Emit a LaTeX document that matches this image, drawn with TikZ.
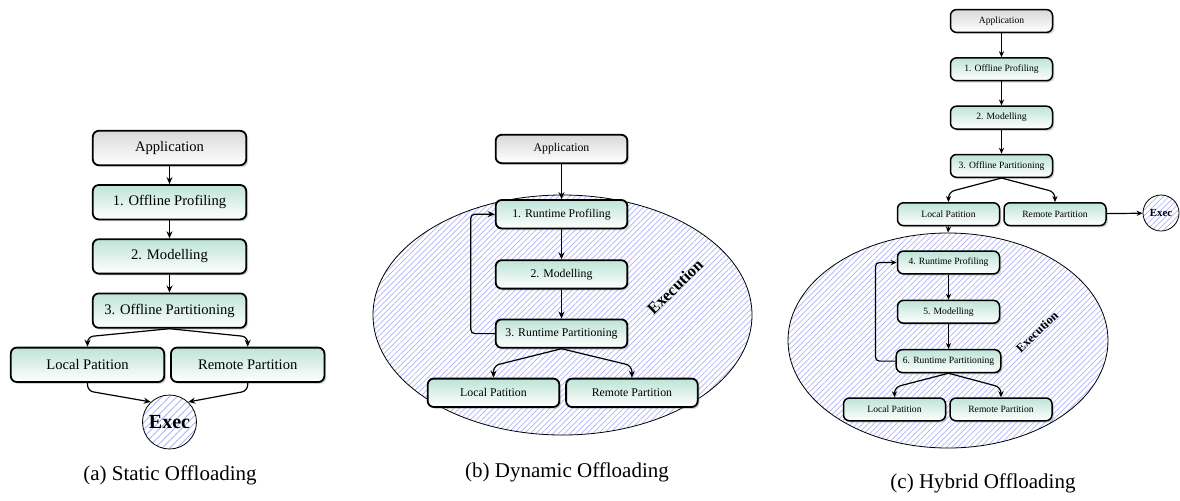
\documentclass[tikz,border=0pt]{standalone}
\usepackage{fontspec}
\setmainfont{Liberation Serif}
\usepackage{xcolor}
\definecolor{boxgreen}{RGB}{190, 228, 214}
\definecolor{hatchblue}{RGB}{175, 178, 250}
\usepackage{tikz}
\usetikzlibrary{
    shapes.geometric,
    arrows.meta,
    positioning,
    calc,
    shadows,
    patterns.meta
}
\tikzstyle{box} = [
    rectangle, draw,
    rounded corners=3pt,
    line width=0.9pt,
    text centered,
    align=center,
    draw=black,
    top color=boxgreen,
    bottom color=white,
    drop shadow={shadow xshift=0.9pt, shadow yshift=-0.9pt, opacity=0.35}
]
\tikzstyle{appbox} = [
    box,
    top color=black!15
]
\tikzstyle{hatch} = [
    draw=black,
    thin,
    pattern={Lines[angle=45, distance=2pt, line width=0.35pt]},
    pattern color=hatchblue
]
\tikzstyle{execlabel} = [
    font=\bfseries,
    inner sep=0pt
]
\tikzstyle{caption} = [
    font=\fontsize{10.5}{12}\selectfont
]
\tikzstyle{arrow} = [
    semithick,
    ->,
    >={Stealth[length=3.5pt, width=3pt]}
]

\begin{document}
\begin{tikzpicture}[x=0.5pt, y=-0.5pt]
\useasboundingbox (0,0) rectangle (1180,500);

% (a) static
\begin{scope}[box/.append style={minimum width=76.7pt, minimum height=17.2pt,
        font=\fontsize{7.3}{8}\selectfont}, node distance=9pt and 2.5pt]
\node (appA) [appbox] at (169.5,148) {Application};
\node (profA) [box, below=of appA] {1. Offline Profiling};
\node (modA) [box, below=of profA] {2. Modelling};
\node (partA) [box, below=of modA] {3. Offline Partitioning};
\node (localA) [box, below=of partA, xshift=-41pt] {Local Patition};
\node (remoteA) [box, right=of localA] {Remote Partition};
\node (execA) [hatch, circle, minimum size=27pt, inner sep=0pt,
    pattern={Lines[angle=45, distance=2.6pt, line width=0.45pt]},
    font=\fontsize{10}{11}\selectfont\bfseries] at (169.5,422) {Exec};

\draw [arrow] (appA) -- (profA);
\draw [arrow] (profA) -- (modA);
\draw [arrow] (modA) -- (partA);
\draw [arrow, rounded corners=3pt] (partA.south) -- ($(localA.north)+(0,5pt)$) -- (localA.north);
\draw [arrow, rounded corners=3pt] (partA.south) -- ($(remoteA.north)+(0,5pt)$) -- (remoteA.north);
\draw [arrow, rounded corners=3pt] (localA.south) -- ++(0,-4pt) -- (execA.133);
\draw [arrow, rounded corners=3pt] (remoteA.south) -- ++(0,-4pt) -- (execA.47);

\node (capA) [caption] at (170,475) {(a) Static Offloading};
\end{scope}

% (b) dynamic
\begin{scope}[box/.append style={minimum width=65.8pt, minimum height=14.2pt,
        font=\fontsize{5.9}{7}\selectfont}, node distance=14.5pt and 2.5pt]
\node (execB) [hatch, ellipse, minimum width=189.5pt, minimum height=120pt] at (562.5,315) {};
\node (labB) [execlabel, rotate=44, font=\fontsize{8.2}{9}\selectfont\bfseries] at (675,287) {Execution};

\node (appB) [appbox] at (561.5,149) {Application};
\node (profB) [box, below=17.5pt of appB] {1. Runtime Profiling};
\node (modB) [box, below=15pt of profB] {2. Modelling};
\node (partB) [box, below=of modB] {3. Runtime Partitioning};
\node (localB) [box, below=of partB, xshift=-34pt] {Local Patition};
\node (remoteB) [box, right=of localB] {Remote Partition};

\draw [arrow] (appB) -- (profB);
\draw [arrow] (profB) -- (modB);
\draw [arrow] (modB) -- (partB);
\draw [arrow, rounded corners=2pt] (partB.west) -- ++(-12pt,0) |- (profB.west);
\draw [arrow, rounded corners=3pt] (partB.south) -- ($(localB.north)+(0,6pt)$) -- (localB.north);
\draw [arrow, rounded corners=3pt] (partB.south) -- ($(remoteB.north)+(0,6pt)$) -- (remoteB.north);

\node (capB) [caption] at (567,472) {(b) Dynamic Offloading};
\end{scope}

% (c) hybrid
\begin{scope}[box/.append style={minimum width=51pt, minimum height=11.4pt,
        font=\fontsize{4.8}{6}\selectfont, line width=0.75pt},
        arrow/.append style={>={Stealth[length=3pt, width=2.6pt]}},
        node distance=12pt and 1.5pt]
\node (execC) [hatch, ellipse, minimum width=160pt, minimum height=107.5pt] at (948,340.5) {};
\node (labC) [execlabel, rotate=44, font=\fontsize{6.2}{7}\selectfont\bfseries] at (1037,332) {Execution};

\node (appC) [appbox] at (1001.5,21) {Application};
\node (profC) [box, below=of appC] {1. Offline Profiling};
\node (modC) [box, below=of profC] {2. Modelling};
\node (partC) [box, below=of modC] {3. Offline Partitioning};
\node (localC) [box, below=of partC, xshift=-26.5pt] {Local Patition};
\node (remoteC) [box, right=of localC] {Remote Partition};
\node (runC) [hatch, circle, minimum size=18pt, inner sep=0pt,
    font=\fontsize{5.4}{6}\selectfont\bfseries] at (1161,213) {Exec};

\node (prof4) [box, below=of localC] {4. Runtime Profiling};
\node (mod5) [box, below=12.5pt of prof4] {5. Modelling};
\node (part6) [box, below=12.5pt of mod5] {6. Runtime Partitioning};
\node (local6) [box, below=of part6, xshift=-27pt] {Local Patition};
\node (remote6) [box, right=of local6] {Remote Partition};

\draw [arrow] (appC) -- (profC);
\draw [arrow] (profC) -- (modC);
\draw [arrow] (modC) -- (partC);
\draw [arrow, rounded corners=3pt] (partC.south) -- ($(localC.north)+(0,5pt)$) -- (localC.north);
\draw [arrow, rounded corners=3pt] (partC.south) -- ($(remoteC.north)+(0,5pt)$) -- (remoteC.north);
\draw [arrow] (remoteC) -- (runC);
\draw [arrow] (localC.south) -- (execC.north);

\draw [arrow] (prof4) -- (mod5);
\draw [arrow] (mod5) -- (part6);
\draw [arrow, rounded corners=2pt] (part6.west) -- ++(-10pt,0) |- (prof4.west);
\draw [arrow, rounded corners=3pt] (part6.south) -- ($(local6.north)+(0,5pt)$) -- (local6.north);
\draw [arrow, rounded corners=3pt] (part6.south) -- ($(remote6.north)+(0,5pt)$) -- (remote6.north);

\node (capC) [caption] at (983,483) {(c) Hybrid Offloading};
\end{scope}

\end{tikzpicture}
\end{document}
